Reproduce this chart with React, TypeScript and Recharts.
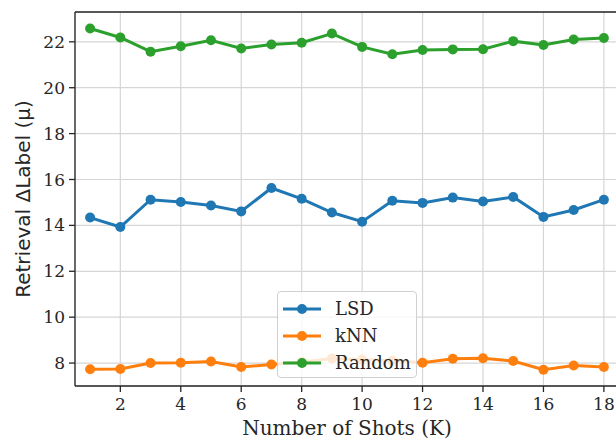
import {
  LineChart,
  Line,
  XAxis,
  YAxis,
  CartesianGrid,
  ReferenceLine,
} from "recharts";

// shots K = 1..18
const shots = [1, 2, 3, 4, 5, 6, 7, 8, 9, 10, 11, 12, 13, 14, 15, 16, 17, 18];
const lsd = [14.34, 13.93, 15.12, 15.02, 14.87, 14.61, 15.63, 15.16, 14.56, 14.16, 15.07, 14.98, 15.21, 15.04, 15.24, 14.37, 14.67, 15.12];
const knn = [7.73, 7.74, 8.0, 8.01, 8.07, 7.83, 7.94, 8.05, 8.2, 8.15, 8.1, 8.01, 8.19, 8.21, 8.09, 7.71, 7.89, 7.83];
const random = [22.58, 22.19, 21.57, 21.81, 22.07, 21.71, 21.88, 21.96, 22.36, 21.78, 21.46, 21.64, 21.67, 21.68, 22.03, 21.86, 22.1, 22.17];

const xTicks = [2, 4, 6, 8, 10, 12, 14, 16, 18];
const yTicks = [8, 10, 12, 14, 16, 18, 20, 22];
const Y_MIN = 7.0;
const Y_MAX = 23.3;

const series = [
  { key: "lsd", name: "LSD", color: "#1f77b4" },
  { key: "knn", name: "kNN", color: "#ff7f0e" },
  { key: "random", name: "Random", color: "#2ca02c" },
];

const data = shots.map((k, i) => ({ k, lsd: lsd[i], knn: knn[i], random: random[i] }));

const serif = "'DejaVu Serif', serif";
const sans = "'DejaVu Sans', sans-serif";
const ink = "#262626";

function LegendBox() {
  return (
    <div
      style={{
        position: "absolute",
        left: 277,
        top: 291,
        width: 140,
        height: 87,
        boxSizing: "border-box",
        background: "rgba(255,255,255,0.82)",
        border: "1px solid #d0d0d0",
        borderRadius: 4,
        padding: "3px 0 0 3px",
      }}
    >
      {series.map((s) => (
        <div key={s.key} style={{ display: "flex", alignItems: "center", height: 27 }}>
          <svg width={42} height={12} style={{ marginRight: 12 }}>
            <line x1={2} y1={6} x2={40} y2={6} stroke={s.color} strokeWidth={3} />
            <circle cx={21} cy={6} r={5} fill={s.color} />
          </svg>
          <span style={{ fontFamily: serif, fontSize: 18, color: ink }}>{s.name}</span>
        </div>
      ))}
    </div>
  );
}

export default function App() {
  return (
    <div
      style={{
        position: "fixed",
        left: 0,
        top: 0,
        width: 616,
        height: 440,
        overflow: "hidden",
        background: "#fff",
        fontFamily: serif,
      }}
    >
      <LineChart width={640} height={440} data={data} margin={{ top: 12, right: 21, bottom: 0, left: 0 }}>
        <CartesianGrid stroke="#d6d6d6" strokeWidth={1.2} />
        <XAxis
          dataKey="k"
          type="number"
          domain={[0.5, 18.5]}
          ticks={xTicks}
          allowDataOverflow
          height={54}
          tickSize={6}
          tickMargin={6}
          stroke={ink}
          strokeWidth={1.3}
          tick={{ fill: ink, fontSize: 17, style: { fontFamily: serif } }}
          label={{
            value: "Number of Shots (K)",
            position: "insideBottom",
            offset: 5,
            fill: ink,
            fontSize: 20,
            style: { fontFamily: serif },
          }}
        />
        <YAxis
          type="number"
          domain={[Y_MIN, Y_MAX]}
          ticks={yTicks}
          allowDataOverflow
          width={75}
          tickSize={6}
          tickMargin={4}
          stroke={ink}
          strokeWidth={1.3}
          tick={{ fill: ink, fontSize: 17, style: { fontFamily: serif } }}
          label={{
            value: "Retrieval ΔLabel (μ)",
            angle: -90,
            position: "insideLeft",
            offset: 23,
            fill: ink,
            fontSize: 20,
            style: { textAnchor: "middle", fontFamily: sans },
          }}
        />
        <ReferenceLine y={Y_MAX} stroke={ink} strokeWidth={1.3} />
        {series.map((s) => (
          <Line
            key={s.key}
            dataKey={s.key}
            name={s.name}
            stroke={s.color}
            strokeWidth={3}
            dot={{ r: 5, fill: s.color, stroke: s.color, strokeWidth: 0 }}
            isAnimationActive={false}
          />
        ))}
      </LineChart>
      <LegendBox />
    </div>
  );
}
